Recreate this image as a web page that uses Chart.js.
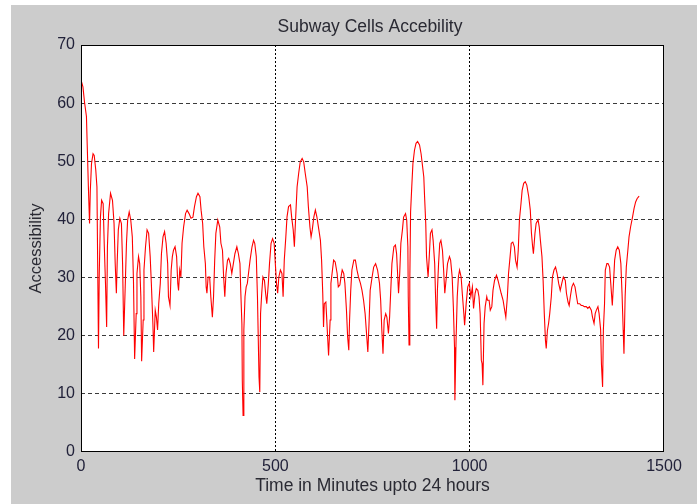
<!DOCTYPE html>
<html>
<head>
<meta charset="utf-8">
<script src="https://cdn.jsdelivr.net/npm/chart.js@4.4.0/dist/chart.umd.min.js"></script>
<style>
html,body{margin:0;padding:0;background:#fff;}
#wrap{width:697px;height:504px;}
</style>
</head>
<body>
<div id="wrap"><canvas id="c" width="697" height="504"></canvas></div>
<script>
const chartTitle = "Subway Cells Accebility";
const xAxisTitle = "Time in Minutes upto 24 hours";
const yAxisTitle = "Accessibility";
const xTickValues = [0, 500, 1000, 1500];
const yTickValues = [0, 10, 20, 30, 40, 50, 60, 70];

const minutes = [
0,5,9,14,16,19,22,24,27,31,34,38,41,45,47,50,53,57,60,63,66,68,71,76,81,85,88,91,93,96,
100,104,107,110,114,117,120,124,128,132,135,138,142,144,148,151,154,156,160,162,166,170,174,178,181,185,187,191,194,197,
200,204,207,211,215,219,223,225,229,232,235,238,242,246,249,251,254,257,260,264,269,273,278,283,288,292,297,
301,306,309,313,316,320,322,324,327,331,334,338,341,344,347,352,357,360,364,367,370,373,377,380,384,388,392,396,
401,405,409,411,414,415,417,419,422,425,428,432,435,440,444,447,451,454,458,460,462,465,468,472,475,478,482,485,489,493,497,
500,503,506,509,513,517,520,523,527,530,534,539,542,546,549,552,556,560,564,569,573,577,582,585,589,592,595,599,
603,607,612,616,619,622,624,626,630,632,635,637,641,643,647,650,654,659,662,666,669,672,676,679,683,686,689,691,694,697,
702,706,710,714,719,723,727,731,734,738,741,744,749,753,758,763,768,771,774,777,780,784,787,791,794,797,
800,805,809,812,815,817,820,823,827,830,835,838,841,842,844,846,848,851,854,858,862,866,871,875,878,882,884,887,889,893,896,899,
903,906,910,912,915,917,920,923,926,930,933,936,940,943,948,951,955,958,961,962,965,968,971,974,978,981,985,987,991,995,999,
1003,1007,1010,1014,1017,1021,1024,1027,1030,1032,1034,1037,1040,1044,1046,1050,1053,1057,1060,1064,1069,1073,1077,1081,1086,1090,1093,1097,
1100,1104,1107,1111,1115,1118,1122,1125,1128,1132,1135,1139,1143,1147,1152,1156,1159,1162,1164,1168,1171,1176,1179,1182,1186,1189,1192,1195,1197,
1200,1203,1206,1210,1213,1217,1221,1225,1229,1233,1237,1241,1246,1249,1253,1256,1259,1263,1267,1271,1275,1278,1283,1287,1291,1295,
1300,1304,1308,1313,1316,1320,1323,1326,1330,1333,1337,1339,1342,1344,1347,1349,1353,1356,1360,1363,1367,1370,1373,1377,1381,1385,1389,1392,1395,1397,
1400,1403,1407,1410,1414,1419,1423,1427,1431,1436
];

const accessibility = [
64,62.8,60.2,57.7,52.8,45.6,39.3,45,49.6,51.3,51,48.5,45.6,17.8,30.7,40.4,43.3,42.7,35.3,29,21.5,35.3,41,44.5,43.3,39.3,32.4,27.3,32.4,38.2,
40.2,39.3,32.4,20,29,35.9,39.9,41.3,39.9,37,29.5,16,23.8,30.7,33.6,32.4,26.7,15.6,22.7,31.3,35.3,38.2,37.6,33.6,29,22,17.2,24.4,23.2,21,
25.5,29,34.1,37,37.9,35.9,32.4,26.7,25.2,31.3,33.6,34.7,35.3,33.6,29,27.8,31.3,30.1,35.9,38.7,41,41.6,41,40.2,40.4,42.2,43.9,
44.5,43.9,41.6,39.3,35.3,32.4,28.4,27.3,30.1,30.1,26.7,23.2,26.7,33,37.6,39.9,38.7,35.9,34.7,30.1,26.7,30.7,33,33.3,32.4,30.7,32.4,34.1,
35.3,34.1,32.4,27.8,22,12.3,6.3,21,26.7,28.4,29,31.3,33,35.3,36.4,35.9,33.6,26.7,12.9,10.3,23.8,27.3,30.1,29.5,27.3,25.5,29,32.4,35.9,36.7,35.9,
32.4,29,27.3,30.1,31.3,30.7,26.7,33,37,40.4,42.2,42.5,40.4,38.2,35.3,39.9,45.6,47.9,49.9,50.5,49.9,47.9,45.6,42.2,38.7,37,38.2,40.4,
41.6,40.4,38.2,36.4,33,27.3,21.5,25.5,25.8,23.2,19.2,16.6,22.7,29,31.3,33,32.7,30.7,28.4,28.7,30.1,31.3,30.7,29,24.4,19.8,17.5,22.7,27.8,31.3,
33,33,31.3,30.1,29,27.8,26.1,23.8,21,17.2,22,27.8,30.1,31.8,32.4,31.3,29,26.1,21,16.9,22.7,23.8,23.2,20.4,23.2,27.8,
32.4,35.3,35.6,34.1,30.1,27.3,30.7,35.9,38.2,40.4,41,39.9,35.3,26.7,18.4,29.5,41.3,45.6,49.6,51.9,53.1,53.4,52.8,51.3,49.6,47.3,43.9,39.3,33.6,30.1,33.6,37.6,
38.2,36.4,32.4,27.3,21.2,27.8,32.4,35.9,36.4,34.7,31.3,27.3,30.1,32.4,33.6,33,30.1,25,18,8.9,19.2,26.7,30.1,31.3,30.1,27.3,23.8,21.8,25.5,28.4,29,
26.7,28.4,24.7,27.3,28.1,27.8,26.7,23.8,15.8,15.2,11.5,22.1,25,26.7,26.1,26.1,24.4,25,27.8,29.5,30.4,29.5,28.4,27.3,26.1,24.4,23.2,26.7,
30.7,33.6,35.9,36.1,35.3,33,31.8,34.7,39.9,42.7,45,46.2,46.5,45.9,43.9,41.6,37.6,35.3,34.1,37.6,39.3,39.9,38.7,36.4,33.6,29.5,23.8,19.2,17.8,
20.9,22.1,23.8,26.7,30.1,31.3,31.8,30.7,29,27.8,29,30.1,29.5,27.3,25.8,25.2,26.7,28.4,29,28.4,26.7,25.5,25.5,25.2,25.2,25,
25,24.7,25,24.4,23.2,22.1,23.8,24.4,25,23.8,21,15.2,11.2,21,25.5,31.3,32.4,32.4,31.8,29,25.2,29,33,34.7,35.3,34.7,32.4,27.3,21,16.9,
26.7,31.8,34.7,37,38.7,40.4,41.9,43,43.6,44
];

const FONT = "Liberation Sans";
const PLOT = {top: 45, bottom: 452, left: 81, right: 664};

const framePlugin = {
  id: 'matlabFrame',
  beforeDraw(chart) {
    const ctx = chart.ctx, a = chart.chartArea;
    ctx.save();
    ctx.fillStyle = '#ffffff';
    ctx.fillRect(0, 0, chart.width, chart.height);
    ctx.fillStyle = '#cccccc';
    ctx.fillRect(11, 5, chart.width - 11, chart.height - 5);
    ctx.fillStyle = '#ffffff';
    ctx.fillRect(a.left, a.top, a.right - a.left, a.bottom - a.top);
    ctx.restore();
  },
  afterDraw(chart) {
    const ctx = chart.ctx, a = chart.chartArea;
    ctx.save();
    ctx.strokeStyle = '#000000';
    ctx.lineWidth = 1;
    ctx.setLineDash([]);
    ctx.strokeRect(a.left + 0.5, a.top + 0.5, a.right - a.left - 1, a.bottom - a.top - 1);
    ctx.fillStyle = '#2a2a33';
    ctx.font = "17.5px '" + FONT + "'";
    ctx.textAlign = 'center';
    ctx.textBaseline = 'middle';
    ctx.fillText(chartTitle, 370, 27);
    ctx.restore();
  }
};

new Chart(document.getElementById('c'), {
  type: 'line',
  data: {
    datasets: [{
      data: minutes.map((m, i) => ({x: m, y: accessibility[i]})),
      borderColor: '#ff0000',
      borderWidth: 1.1,
      pointRadius: 0,
      tension: 0,
      fill: false
    }]
  },
  options: {
    responsive: false,
    devicePixelRatio: 1,
    animation: false,
    layout: {padding: {top: PLOT.top, right: 697 - PLOT.right, left: 0, bottom: 0}},
    plugins: {legend: {display: false}, tooltip: {enabled: false}, title: {display: false}},
    scales: {
      x: {
        type: 'linear',
        min: 0, max: 1500,
        afterBuildTicks(scale) { scale.ticks = xTickValues.map(v => ({value: v})); },
        afterFit(scale) { scale.height = 504 - PLOT.bottom; },
        ticks: {color: '#22223a', font: {family: FONT, size: 16}, padding: 5, maxRotation: 0, callback: (v) => String(v)},
        grid: {
          drawTicks: false,
          lineWidth: 1,
          color: (c) => (c.tick && (c.tick.value === 0 || c.tick.value === 1500)) ? 'rgba(0,0,0,0)' : '#000000'
        },
        border: {display: false, dash: [2, 2]},
        title: {display: true, text: xAxisTitle, color: '#2a2a33', font: {family: FONT, size: 17.5}, padding: {top: 0, bottom: 7}}
      },
      y: {
        min: 0, max: 70,
        afterBuildTicks(scale) { scale.ticks = yTickValues.map(v => ({value: v})); },
        afterFit(scale) { scale.width = PLOT.left; },
        ticks: {color: '#22223a', font: {family: FONT, size: 16}, padding: 6, callback: (v) => String(v)},
        grid: {
          drawTicks: false,
          lineWidth: 1,
          color: (c) => (c.tick && (c.tick.value === 0 || c.tick.value === 70)) ? 'rgba(0,0,0,0)' : '#3a3a3a'
        },
        border: {display: false, dash: [4, 3]},
        title: {display: true, text: yAxisTitle, color: '#2a2a33', font: {family: FONT, size: 16.5}, padding: {top: 27, bottom: 0}}
      }
    }
  },
  plugins: [framePlugin]
});
</script>
</body>
</html>
